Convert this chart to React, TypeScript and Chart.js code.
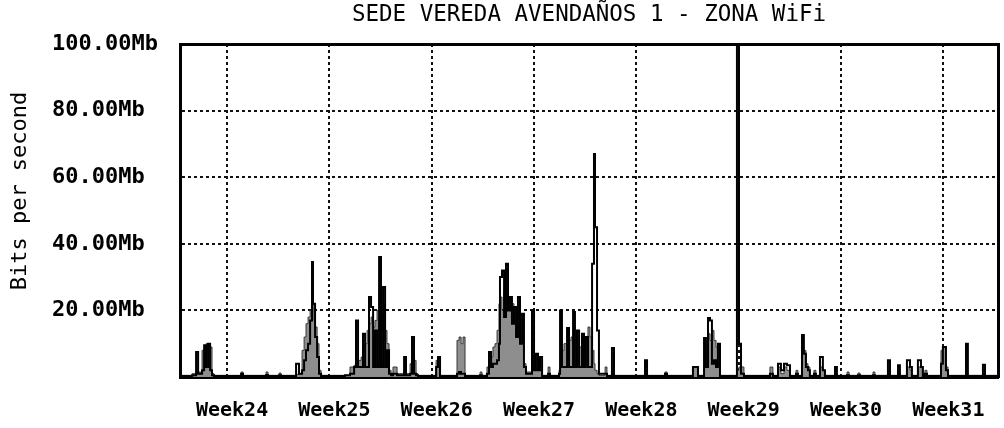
import React, { useEffect, useRef } from 'react';
import { Chart, registerables } from 'chart.js';

Chart.register(...registerables);

const chartTitle = 'SEDE VEREDA AVENDAÑOS 1 - ZONA WiFi';
const yAxisTitle = 'Bits per second';

// x positions of week boundaries (days since start of Week24)
const weekDays = [0, 7, 14, 21, 28, 35, 42, 49];
const weekLabels = ['Week24', 'Week25', 'Week26', 'Week27', 'Week28', 'Week29', 'Week30', 'Week31'];

const yTickValues = [0, 20, 40, 60, 80, 100];
const yTickLabels = ['', '20.00Mb', '40.00Mb', '60.00Mb', '80.00Mb', '100.00Mb'];

const xMin = -3.22;
const xMax = 52.74;

// sample times (days since start of Week24)
const timeDays = [
  -3.22, -2.39, -2.12, -1.98, -1.71, -1.57, -1.44, -1.30, -1.16, -1.03, -0.89,
  0.96, 1.09, 2.67, 2.80, 3.56, 3.69,
  4.72, 4.92, 5.13, 5.27, 5.40, 5.54, 5.68, 5.81, 5.88, 6.02, 6.16, 6.29, 6.43,
  8.07, 8.41, 8.69, 8.82, 8.96, 9.17, 9.30, 9.44, 9.58, 9.71, 9.85, 9.99, 10.12, 10.26, 10.40, 10.53, 10.67, 10.81, 10.94, 11.08, 11.22,
  11.35, 11.63, 12.11, 12.24, 12.52, 12.65, 12.79, 12.93, 13.06,
  14.30, 14.43, 14.57,
  15.73, 15.87, 16.01, 16.14, 16.28,
  17.31, 17.44,
  17.78, 17.92, 18.06, 18.19, 18.33, 18.47, 18.60, 18.67, 18.81, 18.95, 19.08, 19.22, 19.36, 19.49, 19.63, 19.77, 19.90, 20.04, 20.18, 20.31, 20.45,
  20.86, 21.00, 21.13, 21.27, 21.41, 21.55, 21.96, 22.09,
  22.71, 22.78, 22.91, 23.05, 23.26, 23.39, 23.53, 23.67, 23.80, 23.94, 24.08, 24.28, 24.42, 24.55, 24.69, 24.83, 24.97, 25.10, 25.17, 25.31, 25.44, 25.86, 25.99, 26.33, 26.47,
  28.59, 28.73, 29.96, 30.10, 31.87, 32.22,
  32.63, 32.76, 32.90, 33.04, 33.17, 33.31, 33.45, 33.58, 33.72,
  34.88, 35.02, 35.16, 35.36,
  37.14, 37.34, 37.69, 37.89, 38.10, 38.30, 38.51, 38.92, 39.05,
  39.33, 39.46, 39.60, 39.74, 39.87, 40.15, 40.28, 40.56, 40.76, 40.90,
  41.59, 41.72, 42.41, 42.55, 43.16, 43.30, 44.19, 44.32,
  45.21, 45.35, 45.90, 46.03, 46.51, 46.72, 46.85, 47.26, 47.47, 47.60, 47.74, 47.88,
  48.84, 48.97, 49.18, 49.32, 50.55, 50.68, 51.71, 51.85, 52.74,
];

// incoming traffic (Mb/s), gray area
const inMb = [
  0.5, 1, 1, 1.5, 8, 3, 10, 4, 9, 1, 0.5,
  1.5, 0.5, 1.5, 0.5, 1.2, 0.5,
  0.8, 1, 8, 12, 16, 18, 20, 17, 22, 15, 10, 2, 0.5,
  0.5, 3, 3.5, 4, 5, 6, 8, 10, 14, 16, 18, 15, 17, 20, 26, 18, 22, 14, 10, 2, 0.5,
  3, 1, 2, 1, 4, 8, 5, 1, 0.5,
  5, 3, 0.5,
  11, 12, 10, 12, 0.5,
  1.5, 0.5,
  3, 7, 6, 9, 10, 14, 22, 24, 20, 26, 22, 24, 20, 22, 17, 21, 18, 15, 19, 4, 1.5,
  2, 3, 3, 4, 2, 0.5, 3, 0.5,
  2, 3, 8, 10, 14, 11, 12, 10, 12, 10, 9, 13, 10, 12, 15, 12, 8, 4, 2, 1, 0.5, 3, 0.5, 2, 0.5,
  1, 0.5, 1.5, 0.5, 3, 0.5,
  3, 8, 13, 11, 14, 11, 9, 10, 0.5,
  2, 3, 3, 0.5,
  3, 0.5, 3, 1, 3, 2, 0.5, 2, 0.5,
  7, 8, 4, 3, 0.5, 2, 0.5, 3, 2, 0.5,
  1, 0.5, 1.5, 0.5, 1.2, 0.5, 1.5, 0.5,
  2, 0.5, 1.5, 0.5, 3, 2, 0.5, 3, 3, 0.5, 2, 0.5,
  8, 9, 3, 0.5, 1, 0.5, 1, 0.5, 0.5,
];

// outgoing traffic (Mb/s), black line
const outMb = [
  0.3, 0.5, 7.5, 1, 2, 9.5, 3, 10, 2, 0.5, 0.3,
  1, 0.3, 0.6, 0.3, 0.5, 0.3,
  4, 1, 2, 5, 8, 10, 17, 34.5, 22, 12, 6, 1, 0.3,
  0.5, 1, 3, 17, 3, 3, 13, 3, 3, 24, 21, 3, 14, 3, 36, 3, 27, 3, 8, 1, 0.5,
  1, 0.5, 6, 0.5, 1, 12, 1, 0.5, 0.3,
  3, 6, 0.3,
  1, 1.5, 1, 1, 0.3,
  0.5, 0.3,
  1, 7.5, 3, 4, 4, 5, 10, 30, 32, 18, 34, 20, 24, 16, 21, 12, 24, 10, 19, 3, 1,
  20, 2, 7, 2, 6, 0.3, 1, 0.3,
  1, 20, 3, 3, 14.7, 3, 3, 19.5, 3, 14, 3, 13, 3, 12, 3, 3, 34, 67, 45, 14, 1, 1, 0.3, 8.7, 0.3,
  5, 0.3, 1, 0.3, 3, 0.3,
  11.7, 3, 17.7, 17, 4, 5, 3, 10, 0.3,
  100, 10, 1, 0.3,
  1, 0.3, 4, 2, 4, 3.5, 0.3, 1, 0.3,
  12.6, 7, 3, 2, 0.3, 1, 0.3, 6, 2, 0.3,
  3, 0.3, 0.5, 0.3, 0.5, 0.3, 0.5, 0.3,
  5, 0.3, 3.5, 0.3, 5, 3, 0.3, 5, 3, 0.3, 1, 0.3,
  4, 9, 2, 0.3, 10, 0.3, 3.7, 0.3, 0.3,
];

const FONT = '"DejaVu Sans Mono", monospace';

const mrtgText = {
  id: 'mrtgText',
  afterDraw(chart: any) {
    const { ctx, chartArea } = chart;
    ctx.save();
    ctx.fillStyle = '#000';
    ctx.textAlign = 'center';
    ctx.textBaseline = 'middle';
    ctx.font = `22.5px ${FONT}`;
    ctx.fillText(chartTitle, (chartArea.left + chartArea.right) / 2, 15);
    ctx.translate(20, 191);
    ctx.rotate(-Math.PI / 2);
    ctx.font = `22px ${FONT}`;
    ctx.fillText(yAxisTitle, 0, 0);
    ctx.restore();
  },
};

export default function App() {
  const ref = useRef<HTMLCanvasElement | null>(null);

  useEffect(() => {
    if (!ref.current) return;
    const gridDash = [3, 3];
    const chart = new Chart(ref.current, {
      type: 'line',
      data: {
        datasets: [
          {
            label: 'In',
            data: timeDays.map((t, i) => ({ x: t, y: inMb[i] })),
            stepped: true,
            fill: 'origin',
            backgroundColor: '#8e8e8e',
            borderColor: '#3a3a3a',
            borderWidth: 1,
            pointRadius: 0,
            order: 1,
          },
          {
            label: 'Out',
            data: timeDays.map((t, i) => ({ x: t, y: outMb[i] })),
            stepped: true,
            fill: false,
            borderColor: '#000',
            borderWidth: 2,
            pointRadius: 0,
            order: 0,
          },
        ],
      },
      plugins: [mrtgText],
      options: {
        animation: false,
        responsive: false,
        devicePixelRatio: 1,
        layout: { padding: { left: 52, top: 44, right: 6, bottom: 0 } },
        plugins: {
          legend: { display: false },
          tooltip: { enabled: false },
          title: { display: false },
        },
        scales: {
          x: {
            type: 'linear',
            position: 'bottom',
            min: xMin,
            max: xMax,
            afterBuildTicks: (s: any) => {
              s.ticks = weekDays.map((v) => ({ value: v }));
            },
            afterFit: (s: any) => {
              s.height = 51;
            },
            ticks: {
              autoSkip: false,
              maxRotation: 0,
              padding: 22,
              labelOffset: 5,
              color: '#000',
              font: { family: FONT, size: 20, weight: 'bold' },
              callback: (v: any) => {
                const i = weekDays.indexOf(Number(v));
                return i >= 0 ? weekLabels[i] : '';
              },
            },
            grid: { color: '#111', lineWidth: 2, drawTicks: false },
            border: { display: true, color: '#000', width: 3, dash: gridDash },
          },
          y: {
            position: 'left',
            min: 0,
            max: 100,
            afterBuildTicks: (s: any) => {
              s.ticks = yTickValues.map((v) => ({ value: v }));
            },
            afterFit: (s: any) => {
              s.width = 128;
            },
            ticks: {
              crossAlign: 'far',
              padding: 0,
              color: '#000',
              font: { family: FONT, size: 22, weight: 'bold' },
              callback: (v: any) => {
                const i = yTickValues.indexOf(Number(v));
                return i >= 0 ? yTickLabels[i] : '';
              },
            },
            grid: { color: '#111', lineWidth: 2, drawTicks: false },
            border: { display: true, color: '#000', width: 3, dash: gridDash },
          },
          xTop: {
            type: 'linear',
            position: 'top',
            min: xMin,
            max: xMax,
            ticks: { display: false },
            grid: { display: false, drawTicks: false },
            border: { display: true, color: '#000', width: 3 },
            afterFit: (s: any) => {
              s.height = 0;
            },
          },
          yRight: {
            position: 'right',
            min: 0,
            max: 100,
            ticks: { display: false },
            grid: { display: false, drawTicks: false },
            border: { display: true, color: '#000', width: 3 },
            afterFit: (s: any) => {
              s.width = 0;
            },
          },
        },
      } as any,
    });
    return () => chart.destroy();
  }, []);

  return (
    <div style={{ position: 'absolute', left: 0, top: 0, width: 1004, height: 428, background: '#fff' }}>
      <canvas ref={ref} width={1004} height={428} style={{ display: 'block' }} />
    </div>
  );
}
